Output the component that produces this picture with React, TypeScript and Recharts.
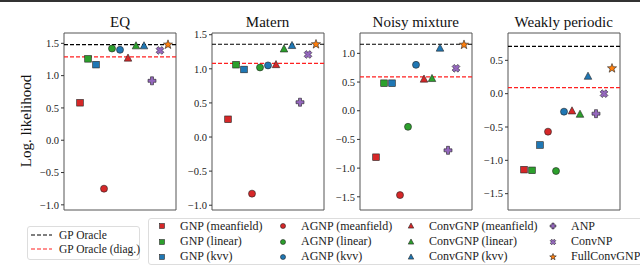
import React from "react";
import {
  ScatterChart,
  Scatter,
  XAxis,
  YAxis,
  ReferenceLine,
  ReferenceArea,
} from "recharts";

const FONT = '"Liberation Serif", "DejaVu Serif", serif';

const METHODS = [
  "GNP (meanfield)", "GNP (linear)", "GNP (kvv)",
  "AGNP (meanfield)", "AGNP (linear)", "AGNP (kvv)",
  "ConvGNP (meanfield)", "ConvGNP (linear)", "ConvGNP (kvv)",
  "ANP", "ConvNP", "FullConvGNP",
];
const MARKERS = [
  "square", "square", "square",
  "circle", "circle", "circle",
  "triangle", "triangle", "triangle",
  "plus", "x", "star",
];
const COLORS = [
  "#d62728", "#2ca02c", "#1f77b4",
  "#d62728", "#2ca02c", "#1f77b4",
  "#d62728", "#2ca02c", "#1f77b4",
  "#9467bd", "#9467bd", "#ff7f0e",
];

const PANELS = ["EQ", "Matern", "Noisy mixture", "Weakly periodic"];

const EQ_VALUES = [0.58, 1.26, 1.17, -0.75, 1.42, 1.4, 1.27, 1.46, 1.46, 0.92, 1.39, 1.48];
const MATERN_VALUES = [0.26, 1.06, 0.99, -0.83, 1.02, 1.05, 1.06, 1.29, 1.34, 0.51, 1.21, 1.36];
const NOISY_VALUES = [-0.81, 0.48, 0.48, -1.47, -0.28, 0.8, 0.55, 0.56, 1.09, -0.69, 0.74, 1.15];
const WEAKLY_VALUES = [-1.14, -1.15, -0.77, -0.57, -1.16, -0.27, -0.26, -0.31, 0.26, -0.3, 0.0, 0.38];

const ORACLE = [1.48, 1.36, 1.16, 0.71];
const ORACLE_DIAG = [1.29, 1.08, 0.59, 0.09];

const Y_DOMAINS: [number, number][] = [
  [-1.08, 1.66],
  [-1.07, 1.525],
  [-1.73, 1.355],
  [-1.745, 0.91],
];
const Y_TICKS = [
  [-1, -0.5, 0, 0.5, 1, 1.5],
  [-1, -0.5, 0, 0.5, 1, 1.5],
  [-1.5, -1, -0.5, 0, 0.5, 1],
  [-1.5, -1, -0.5, 0, 0.5],
];
const ALL_VALUES = [EQ_VALUES, MATERN_VALUES, NOISY_VALUES, WEAKLY_VALUES];

// plot-box left edges / widths in px
const BOX_LEFT = [64, 211.5, 359.7, 507.7];
const BOX_W = 112;
const BOX_TOP = 33;
const BOX_BOTTOM = 210;
const AXIS_W = 40;

const fmt = (v: number) => v.toFixed(1).replace("-", "\u2212");

function Glyph({ kind, color, x, y, s = 1 }: { kind: string; color: string; x: number; y: number; s?: number }) {
  const edge = { stroke: "#222", strokeWidth: 0.6 };
  if (kind === "square") {
    const h = 3.3 * s;
    return <rect x={x - h} y={y - h} width={2 * h} height={2 * h} fill={color} {...edge} />;
  }
  if (kind === "circle") {
    return <circle cx={x} cy={y} r={3.5 * s} fill={color} {...edge} />;
  }
  if (kind === "triangle") {
    const a = 4.2 * s;
    return (
      <polygon
        points={`${x},${y - a} ${x + a * 0.9},${y + a * 0.7} ${x - a * 0.9},${y + a * 0.7}`}
        fill={color}
        {...edge}
      />
    );
  }
  if (kind === "plus" || kind === "x") {
    const a = 4 * s;
    const t = 1.5 * s;
    const pts = [
      [-t, -a], [t, -a], [t, -t], [a, -t], [a, t], [t, t],
      [t, a], [-t, a], [-t, t], [-a, t], [-a, -t], [-t, -t],
    ];
    const rot = kind === "x" ? Math.PI / 4 : 0;
    const p = pts
      .map(([px, py]) => {
        const rx = px * Math.cos(rot) - py * Math.sin(rot);
        const ry = px * Math.sin(rot) + py * Math.cos(rot);
        return `${x + rx},${y + ry}`;
      })
      .join(" ");
    return <polygon points={p} fill={color} {...edge} />;
  }
  // star
  const ro = 4.8 * s;
  const ri = 2 * s;
  const pts: string[] = [];
  for (let i = 0; i < 10; i++) {
    const r = i % 2 === 0 ? ro : ri;
    const ang = -Math.PI / 2 + (i * Math.PI) / 5;
    pts.push(`${x + r * Math.cos(ang)},${y + r * Math.sin(ang)}`);
  }
  return <polygon points={pts.join(" ")} fill={color} {...edge} />;
}

const renderMarker = (props: any) => {
  const { cx, cy, payload } = props;
  if (cx == null || cy == null) return <g />;
  return <Glyph kind={payload.kind} color={payload.color} x={cx} y={cy} />;
};

function Panel({ idx }: { idx: number }) {
  const data = ALL_VALUES[idx].map((v, i) => ({
    x: i,
    y: v,
    kind: MARKERS[i],
    color: COLORS[i],
    name: METHODS[i],
  }));
  const [lo, hi] = Y_DOMAINS[idx];
  return (
    <div style={{ position: "absolute", left: BOX_LEFT[idx] - AXIS_W, top: 0 }}>
      <ScatterChart
        width={AXIS_W + BOX_W + 4}
        height={266}
        margin={{ top: BOX_TOP, bottom: 266 - BOX_BOTTOM, left: 0, right: 4 }}
      >
        <XAxis type="number" dataKey="x" domain={[-2, 12]} hide allowDataOverflow />
        <YAxis
          type="number"
          dataKey="y"
          domain={[lo, hi]}
          ticks={Y_TICKS[idx]}
          allowDataOverflow
          width={AXIS_W}
          tickFormatter={fmt}
          tick={{ fontSize: 10.5, fill: "#222", fontFamily: FONT }}
          tickSize={3}
          tickLine={{ stroke: "#333" }}
          axisLine={false}
          interval={0}
        />
        <ReferenceLine y={ORACLE[idx]} stroke="#000" strokeDasharray="4 2" strokeWidth={1.1} />
        <ReferenceLine y={ORACLE_DIAG[idx]} stroke="#ff2020" strokeDasharray="4 2" strokeWidth={1.1} />
        <Scatter data={data} shape={renderMarker} isAnimationActive={false} />
        <ReferenceArea
          x1={-2}
          x2={12}
          y1={lo}
          y2={hi}
          fill="none"
          stroke="#555"
          strokeWidth={1}
          ifOverflow="visible"
        />
      </ScatterChart>
      <div
        style={{
          position: "absolute",
          left: AXIS_W,
          width: BOX_W,
          top: 13,
          textAlign: "center",
          fontFamily: FONT,
          fontSize: 15,
          color: "#111",
          lineHeight: "18px",
          whiteSpace: "nowrap",
        }}
      >
        {PANELS[idx]}
      </div>
    </div>
  );
}

function LegendItem({ kind, color, label, x, y }: { kind: string; color: string; label: string; x: number; y: number }) {
  return (
    <div style={{ position: "absolute", left: x, top: y - 8, height: 16, display: "flex", alignItems: "center", whiteSpace: "nowrap" }}>
      <svg width={12} height={12} style={{ marginRight: 12 }}>
        <Glyph kind={kind} color={color} x={6} y={6} s={0.72} />
      </svg>
      <span style={{ fontFamily: FONT, fontSize: 12, color: "#222" }}>{label}</span>
    </div>
  );
}

export default function App() {
  const colX = [156, 277, 405, 547];
  const rowY = [226, 241.5, 256.5];
  return (
    <div style={{ position: "fixed", left: 0, top: 0, width: 640, height: 266, background: "#fff", overflow: "hidden" }}>
      <div style={{ position: "absolute", left: 0, top: 0, width: 640, height: 2, background: "#333" }} />
      {PANELS.map((_, i) => (
        <Panel key={i} idx={i} />
      ))}
      <div
        style={{
          position: "absolute",
          left: 26,
          top: 121,
          transform: "translate(-50%, -50%) rotate(-90deg)",
          fontFamily: FONT,
          fontSize: 15,
          color: "#111",
          whiteSpace: "nowrap",
        }}
      >
        Log. likelihood
      </div>
      {/* oracle legend */}
      <div
        style={{
          position: "absolute",
          left: 27,
          top: 226,
          width: 113,
          height: 34,
          border: "1px solid #ddd",
          borderRadius: 3,
          boxSizing: "border-box",
        }}
      />
      {[
        { label: "GP Oracle", color: "#000", y: 235 },
        { label: "GP Oracle (diag.)", color: "#ff2020", y: 248.5 },
      ].map((o) => (
        <div key={o.label} style={{ position: "absolute", left: 31, top: o.y - 8, height: 16, display: "flex", alignItems: "center", whiteSpace: "nowrap" }}>
          <svg width={21} height={4} style={{ marginRight: 7 }}>
            <line x1={0} y1={2} x2={21} y2={2} stroke={o.color} strokeWidth={1.1} strokeDasharray="4 2" />
          </svg>
          <span style={{ fontFamily: FONT, fontSize: 11.5, color: "#222" }}>{o.label}</span>
        </div>
      ))}
      {/* methods legend */}
      <div
        style={{
          position: "absolute",
          left: 148,
          top: 218,
          width: 520,
          height: 47,
          border: "1px solid #ddd",
          borderRadius: 3,
          boxSizing: "border-box",
        }}
      />
      {METHODS.map((m, i) => (
        <LegendItem
          key={m}
          kind={MARKERS[i]}
          color={COLORS[i]}
          label={m}
          x={colX[Math.floor(i / 3)]}
          y={rowY[i % 3]}
        />
      ))}
    </div>
  );
}
